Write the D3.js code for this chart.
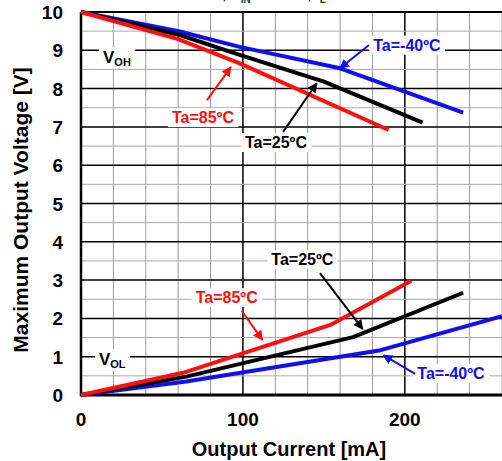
<!DOCTYPE html>
<html>
<head>
<meta charset="utf-8">
<script src="https://cdn.jsdelivr.net/npm/d3@7"></script>
<style>
  body { margin: 0; background: #fff; }
  text { font-family: "Liberation Sans", Arial, sans-serif; font-weight: bold; }
</style>
</head>
<body>
<svg id="chart" width="502" height="461"></svg>
<script>
const width = 502;
const height = 461;

// tick labels
const xTicks = [0, 100, 200];
const yTicks = [0, 1, 2, 3, 4, 5, 6, 7, 8, 9, 10];
const xMinor = [0, 20, 40, 60, 80, 100, 120, 140, 160, 180, 200, 220, 240, 260];
const yMinor = [0.5, 1.5, 2.5, 3.5, 4.5, 5.5, 6.5, 7.5, 8.5, 9.5];

// output current [mA], output voltage [V]
const vohM40 = [[0, 10], [61, 9.49], [98, 9.09], [160, 8.53], [236, 7.37]];
const vohP25 = [[0, 10], [61, 9.40], [98, 8.88], [150, 8.18], [211, 7.11]];
const vohP85 = [[0, 10], [60, 9.29], [98, 8.66], [190, 6.92]];
const volM40 = [[0, 0], [65, 0.35], [185, 1.17], [260, 2.06]];
const volP25 = [[0, 0], [65, 0.48], [168, 1.51], [236, 2.67]];
const volP85 = [[0, 0], [63, 0.58], [154, 1.83], [204, 2.98]];

const series = [
  { data: vohM40, color: "#1010ee" },
  { data: vohP25, color: "#000" },
  { data: vohP85, color: "#ff1010" },
  { data: volM40, color: "#1010ee" },
  { data: volP25, color: "#000" },
  { data: volP85, color: "#ff1010" }
];

// labels: text, color, x/y in data units, arrow tail -> head
const notes = [
  { t: "Ta=85ºC", c: "#ff1010", x: 75.3, y: 7.10, a: [77.8, 7.70, 92.6, 8.56] },
  { t: "Ta=25ºC", c: "#000", x: 120.4, y: 6.45, a: [124.8, 6.87, 145.6, 8.14] },
  { t: "Ta=-40ºC", c: "#1010ee", x: 201.3, y: 8.99, a: [177.9, 9.14, 159.9, 8.53] },
  { t: "Ta=85ºC", c: "#ff1010", x: 90, y: 2.40, a: [99.2, 2.20, 112, 1.44] },
  { t: "Ta=25ºC", c: "#000", x: 136.7, y: 3.39, a: [147.6, 3.18, 174, 1.72] },
  { t: "Ta=-40ºC", c: "#1010ee", x: 228.5, y: 0.42, a: [206.3, 0.55, 186.7, 1.04] }
];

const svg = d3.select("#chart");

const x = d3.scaleLinear().domain([0, 260]).range([81, 502]);
const y = d3.scaleLinear().domain([0, 10]).range([395, 12]);

// title (cut off at the top in the reference)
const title = svg.append("text")
  .attr("x", 289).attr("y", -1)
  .attr("text-anchor", "middle")
  .attr("font-size", 15)
  .attr("fill", "#333");
title.append("tspan").text("VCC=10V, V");
title.append("tspan").attr("font-size", 10).attr("dy", 4).text("IN");
title.append("tspan").attr("dy", -4).text("=0V/10V, I");
title.append("tspan").attr("font-size", 10).attr("dy", 4).text("L");
title.append("tspan").attr("dy", -4).text("=Source/Sink");

// grid
const grid = svg.append("g");
grid.selectAll(".vx")
  .data(xMinor)
  .join("line")
  .attr("x1", d => x(d)).attr("x2", d => x(d))
  .attr("y1", y(10)).attr("y2", y(0))
  .attr("stroke", d => d % 100 === 0 ? "#000" : "#999")
  .attr("stroke-width", d => d % 100 === 0 ? 1.5 : 1);

grid.selectAll(".hm")
  .data(yMinor)
  .join("line")
  .attr("x1", x(0)).attr("x2", width)
  .attr("y1", d => y(d)).attr("y2", d => y(d))
  .attr("stroke", "#aaa")
  .attr("stroke-width", 1);

grid.selectAll(".hM")
  .data(yTicks)
  .join("line")
  .attr("x1", x(0)).attr("x2", width)
  .attr("y1", d => y(d)).attr("y2", d => y(d))
  .attr("stroke", "#000")
  .attr("stroke-width", 1.5);

// frame
svg.append("line").attr("x1", x(0)).attr("x2", width).attr("y1", y(10)).attr("y2", y(10))
  .attr("stroke", "#000").attr("stroke-width", 2);
svg.append("line").attr("x1", x(0)).attr("x2", width).attr("y1", y(0)).attr("y2", y(0))
  .attr("stroke", "#000").attr("stroke-width", 3);
svg.append("line").attr("x1", x(0)).attr("x2", x(0)).attr("y1", y(10)).attr("y2", y(0) + 1.5)
  .attr("stroke", "#000").attr("stroke-width", 2.5);

// tick labels
svg.selectAll(".xt")
  .data(xTicks)
  .join("text")
  .attr("x", d => x(d)).attr("y", 426)
  .attr("text-anchor", "middle")
  .attr("font-size", 19)
  .text(d => d);

svg.selectAll(".yt")
  .data(yTicks)
  .join("text")
  .attr("x", 63).attr("y", d => y(d) + 7)
  .attr("text-anchor", "end")
  .attr("font-size", 19)
  .text(d => d);

// axis titles
svg.append("text")
  .attr("x", 289).attr("y", 456)
  .attr("text-anchor", "middle")
  .attr("font-size", 20)
  .text("Output Current [mA]");

svg.append("text")
  .attr("transform", "translate(28,210) rotate(-90)")
  .attr("text-anchor", "middle")
  .attr("font-size", 21)
  .text("Maximum Output Voltage [V]");

// curves
const line = d3.line().x(d => x(d[0])).y(d => y(d[1]));
svg.append("g").selectAll("path")
  .data(series)
  .join("path")
  .attr("d", d => line(d.data))
  .attr("fill", "none")
  .attr("stroke", d => d.color)
  .attr("stroke-width", 4)
  .attr("stroke-linejoin", "round");

// arrow markers
const defs = svg.append("defs");
["#ff1010", "#000", "#1010ee"].forEach((c, i) => {
  defs.append("marker")
    .attr("id", "ah" + i)
    .attr("viewBox", "0 0 10 10")
    .attr("refX", 9).attr("refY", 5)
    .attr("markerWidth", 5).attr("markerHeight", 5)
    .attr("markerUnits", "strokeWidth")
    .attr("orient", "auto")
    .append("path")
    .attr("d", "M0,0L10,5L0,10Z")
    .attr("fill", c);
});
const markerId = c => c === "#ff1010" ? "ah0" : c === "#000" ? "ah1" : "ah2";

// labels with white boxes
const lab = svg.append("g");
function boxed(g) {
  const b = g.select("text").node().getBBox();
  g.insert("rect", "text")
    .attr("x", b.x - 4).attr("y", b.y - 1)
    .attr("width", b.width + 8).attr("height", b.height + 2)
    .attr("fill", "#fff");
}

notes.forEach(n => {
  const g = lab.append("g");
  g.append("text")
    .attr("x", x(n.x)).attr("y", y(n.y))
    .attr("text-anchor", "middle")
    .attr("font-size", 16)
    .attr("fill", n.c)
    .text(n.t);
  boxed(g);
  lab.append("line")
    .attr("x1", x(n.a[0])).attr("y1", y(n.a[1]))
    .attr("x2", x(n.a[2])).attr("y2", y(n.a[3]))
    .attr("stroke", n.c)
    .attr("stroke-width", 2)
    .attr("marker-end", "url(#" + markerId(n.c) + ")");
});

[["OH", 13.6, 8.67], ["OL", 11.1, 0.78]].forEach(v => {
  const g = lab.append("g");
  const t = g.append("text")
    .attr("x", x(v[1])).attr("y", y(v[2]))
    .attr("font-size", 17);
  t.append("tspan").text("V");
  t.append("tspan").attr("font-size", 11).attr("dy", 3).text(v[0]);
  boxed(g);
});
</script>
</body>
</html>
